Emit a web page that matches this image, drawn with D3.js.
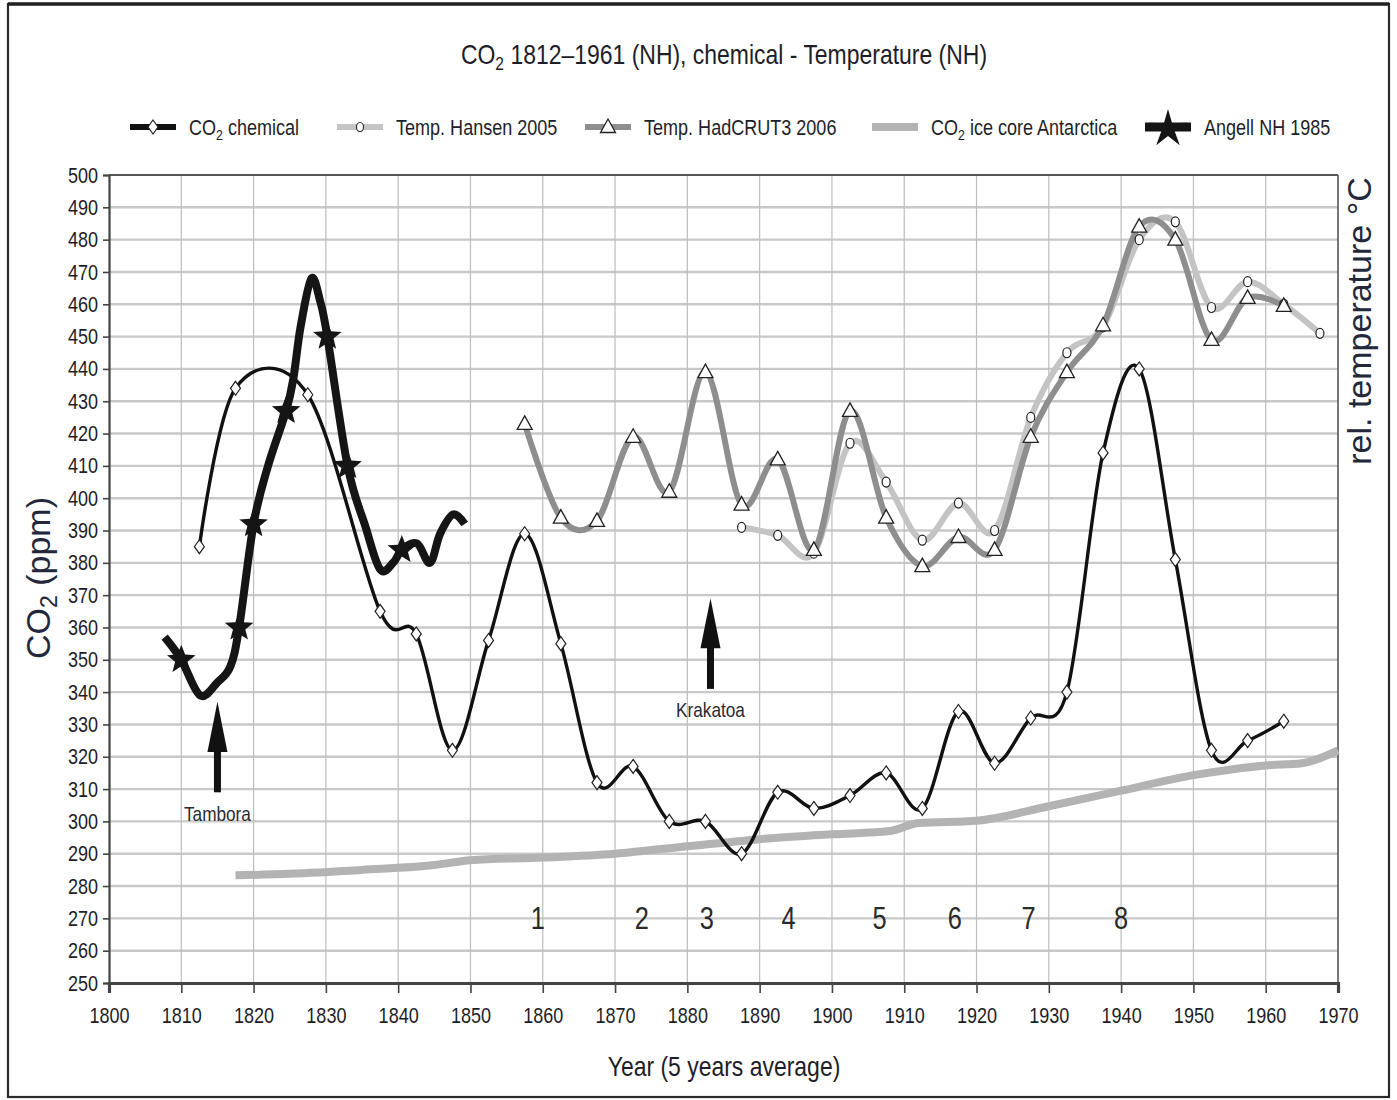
<!DOCTYPE html>
<html><head><meta charset="utf-8">
<script src="https://cdn.jsdelivr.net/npm/d3@7"></script>
<style>
html,body{margin:0;padding:0;background:#fff;}
svg{display:block;}
</style></head><body>
<svg id="chart" width="1397" height="1100"></svg>
<script>
// ---------------- DATA ----------------
const chemYears = [1812.5,1817.5,1827.5,1837.5,1842.5,1847.5,1852.5,1857.5,1862.5,1867.5,1872.5,1877.5,1882.5,1887.5,1892.5,1897.5,1902.5,1907.5,1912.5,1917.5,1922.5,1927.5,1932.5,1937.5,1942.5,1947.5,1952.5,1957.5,1962.5];
const chemValues = [385,434,432,365,358,322,356,389,355,312,317,300,300,290,309,304,308,315,304,334,318,332,340,414,440,381,322,325,331];

const hadYears = [1857.5,1862.5,1867.5,1872.5,1877.5,1882.5,1887.5,1892.5,1897.5,1902.5,1907.5,1912.5,1917.5,1922.5,1927.5,1932.5,1937.5,1942.5,1947.5,1952.5,1957.5,1962.5];
const hadValues = [423,394,393,419,402,439,398,412,384,427,394,379,388,384,419,439,453.5,484,480,449,462,459.5];

const hansenYears = [1887.5,1892.5,1897.5,1902.5,1907.5,1912.5,1917.5,1922.5,1927.5,1932.5,1937.5,1942.5,1947.5,1952.5,1957.5,1962.5,1967.5];
const hansenValues = [391,388.5,383,417,405,387,398.5,390,425,445,453,480,485.5,459,467,460,451];

const iceYears = [1817.5,1825,1835,1845,1850,1860,1870,1880,1890,1900,1908,1912,1920,1930,1940,1950,1955,1960,1965,1970];
const iceValues = [283.3,283.8,285,286.5,288,288.8,290,292.3,294.5,296,297,299.5,300.2,304.7,309.5,314.3,316,317.3,318,322];

const angellYears = [1807.7,1810,1812.6,1815,1816.8,1818,1820,1822,1824.5,1825.5,1826.5,1828,1829.2,1830.2,1833,1835.5,1837.5,1839.3,1840.5,1842.6,1844.4,1845.8,1847.6,1849.2];
const angellValues = [357,350,339,343,348,360,392,410,427,437,453,468,461,450,410,391,378,380,384,386,380,389,395,392];
const angellStars = [0,1,0,0,0,1,1,0,1,0,0,0,0,1,1,0,0,0,1,0,0,0,0,0];

const yTicks = d3.range(250, 501, 10);
const xTicks = d3.range(1800, 1971, 10);
const periodLabels = ["1","2","3","4","5","6","7","8"];
const periodYears = [1859.3,1873.7,1882.7,1894,1906.6,1917,1927.2,1940];
const volcanoNames = ["Tambora","Krakatoa"];
const volcanoYears = [1815, 1883.2];

// ---------------- SETUP ----------------
function hasFont(name){
  const c=document.createElement('canvas').getContext('2d');
  c.font='40px monospace'; const w0=c.measureText('abcdefghijklmnop').width;
  c.font='40px "'+name+'", monospace'; return Math.abs(c.measureText('abcdefghijklmnop').width-w0)>0.5;
}
const narrowOK = hasFont('Liberation Sans Narrow');
const NARROW = narrowOK ? '"Liberation Sans Narrow", sans-serif' : '"Liberation Sans", Arial, sans-serif';
const SQUEEZE = narrowOK ? 1 : 0.82;
function narrow(sel){
  sel.style('font-family', NARROW);
  if(SQUEEZE!==1){
    sel.each(function(){
      const t=d3.select(this); const x=+t.attr('x')||0;
      t.attr('transform','translate('+(x*(1-SQUEEZE))+',0) scale('+SQUEEZE+',1)');
    });
  }
}
const REG = '"Liberation Sans", Arial, sans-serif';
const TXT = '#1e1e28';

const svg = d3.select('#chart');
const L=109, R=1338, T=175, B=983;
const x = d3.scaleLinear().domain([1800,1970]).range([L,R]);
const y = d3.scaleLinear().domain([250,500]).range([B,T]);

// outer frame
svg.append('rect').attr('x',8).attr('y',4).attr('width',1381).attr('height',1093)
  .attr('fill','#fff').attr('stroke','#2a2a2a').attr('stroke-width',2.2);
svg.append('line').attr('x1',8).attr('x2',1389).attr('y1',4).attr('y2',4).attr('stroke','#222').attr('stroke-width',3.5);

// gridlines
const grid = svg.append('g');
grid.selectAll('line.h').data(yTicks.filter(v=>v>250 && v<500)).join('line')
  .attr('x1',L).attr('x2',R).attr('y1',d=>y(d)).attr('y2',d=>y(d))
  .attr('stroke','#c9c9c9').attr('stroke-width',2.4);
grid.selectAll('line.v').data(xTicks.filter(v=>v>1800 && v<1970)).join('line')
  .attr('x1',d=>x(d)).attr('x2',d=>x(d)).attr('y1',T).attr('y2',B)
  .attr('stroke','#bdbdbd').attr('stroke-width',1.2);

// plot frame (top/right)
svg.append('line').attr('x1',L).attr('x2',R).attr('y1',T).attr('y2',T).attr('stroke','#555').attr('stroke-width',2);
svg.append('line').attr('x1',R).attr('x2',R).attr('y1',T).attr('y2',B).attr('stroke','#555').attr('stroke-width',1.6);

// axes
const yAxis = svg.append('g').attr('transform','translate('+L+',0)')
  .call(d3.axisLeft(y).tickValues(yTicks).tickSize(6).tickPadding(5).tickFormat(d3.format('d')));
yAxis.select('.domain').attr('stroke','#444').attr('stroke-width',2.2);
yAxis.selectAll('.tick line').attr('stroke','#444').attr('stroke-width',1.6);
yAxis.selectAll('text').attr('fill',TXT).style('font-size','22px');
narrow(yAxis.selectAll('text'));

const xAxis = svg.append('g').attr('transform','translate(0,'+B+')')
  .call(d3.axisBottom(x).tickValues(xTicks).tickSize(10).tickPadding(14).tickFormat(d3.format('d')));
xAxis.select('.domain').attr('stroke','#444').attr('stroke-width',3.2);
xAxis.selectAll('.tick line').attr('stroke','#444').attr('stroke-width',1.6);
xAxis.selectAll('text').attr('fill',TXT).style('font-size','22px');
narrow(xAxis.selectAll('text'));

// ---------------- SERIES ----------------
const curve = d3.curveCardinal.tension(0);
function series(xs, vs){ return xs.map((d,i)=>({x:d, v:vs[i], i:i})); }
const lineGen = d3.line().x(d=>x(d.x)).y(d=>y(d.v)).curve(curve);

const iceData = series(iceYears, iceValues);
const hanData = series(hansenYears, hansenValues);
const hadData = series(hadYears, hadValues);
const chemData = series(chemYears, chemValues);
const angData = series(angellYears, angellValues);

const plot = svg.append('g');
plot.append('path').datum(iceData).attr('d', d3.line().x(d=>x(d.x)).y(d=>y(d.v)).curve(d3.curveMonotoneX))
  .attr('fill','none').attr('stroke','#b3b3b3').attr('stroke-width',8).attr('stroke-linecap','butt');
plot.append('path').datum(hanData).attr('d', lineGen)
  .attr('fill','none').attr('stroke','#c4c4c4').attr('stroke-width',6);
plot.append('path').datum(hadData).attr('d', lineGen)
  .attr('fill','none').attr('stroke','#8e8e8e').attr('stroke-width',6);

// markers hansen (ellipses) and hadcrut (triangles)
plot.selectAll('ellipse.han').data(hanData).join('ellipse')
  .attr('cx',d=>x(d.x)).attr('cy',d=>y(d.v)).attr('rx',4).attr('ry',5)
  .attr('fill','#fff').attr('stroke','#222').attr('stroke-width',1.2);
const triPath = 'M0,-8L7.5,5.5L-7.5,5.5Z';
plot.selectAll('path.had').data(hadData).join('path')
  .attr('transform',d=>'translate('+x(d.x)+','+y(d.v)+')').attr('d',triPath)
  .attr('fill','#fff').attr('stroke','#222').attr('stroke-width',1.3);

// chemical
plot.append('path').datum(chemData).attr('d', lineGen)
  .attr('fill','none').attr('stroke','#111').attr('stroke-width',3.4);
const diaPath = 'M0,-7L5,0L0,7L-5,0Z';
plot.selectAll('path.chem').data(chemData).join('path')
  .attr('transform',d=>'translate('+x(d.x)+','+y(d.v)+')').attr('d',diaPath)
  .attr('fill','#fff').attr('stroke','#222').attr('stroke-width',1.2);

// Angell
function starPath(Ro, Ri){
  let p='';
  for(let i=0;i<10;i++){
    const a=-Math.PI/2+i*Math.PI/5, r=i%2?Ri:Ro;
    p+=(i?'L':'M')+(r*Math.cos(a)).toFixed(2)+','+(r*Math.sin(a)).toFixed(2);
  }
  return p+'Z';
}
plot.append('path').datum(angData).attr('d', lineGen)
  .attr('fill','none').attr('stroke','#151515').attr('stroke-width',8).attr('stroke-linejoin','round');
plot.selectAll('path.star').data(angData.filter(d=>angellStars[d.i])).join('path')
  .attr('transform',d=>'translate('+x(d.x)+','+y(d.v)+')').attr('d',starPath(15,6.5))
  .attr('fill','#151515');

// ---------------- ANNOTATIONS ----------------
const ann = svg.append('g');
const pn = ann.selectAll('text.pn').data(periodLabels).join('text')
  .attr('x',(d,i)=>x(periodYears[i])).attr('y',y(270)+11)
  .attr('text-anchor','middle').attr('fill','#2a2a2a').style('font-size','31px').text(d=>d);
narrow(pn);

const arrowSpec = [
  {tip:337, base:321.5, bottom:309, label:300},
  {tip:369, base:353.6, bottom:341, label:332.4}
];
volcanoNames.forEach((name,i)=>{
  const cx = x(volcanoYears[i]); const s = arrowSpec[i];
  ann.append('rect').attr('x',cx-3.5).attr('y',y(s.base)-1).attr('width',7).attr('height',y(s.bottom)-y(s.base)+1).attr('fill','#111');
  ann.append('path').attr('d','M'+cx+','+y(s.tip)+'L'+(cx+10)+','+y(s.base)+'L'+(cx-10)+','+y(s.base)+'Z').attr('fill','#111');
  const t = ann.append('text').attr('x',cx).attr('y',y(s.label)).attr('text-anchor','middle')
    .attr('fill','#2a2a33').style('font-size','21px').text(name);
  narrow(t);
});

// ---------------- TITLES ----------------
const title = svg.append('text').attr('x',724).attr('y',64).attr('text-anchor','middle')
  .attr('fill',TXT).style('font-size','28px');
title.append('tspan').text('CO');
title.append('tspan').text('2').attr('dy',6).style('font-size','19px');
title.append('tspan').text(' 1812–1961 (NH), chemical - Temperature (NH)').attr('dy',-6);
narrow(title);

const xt = svg.append('text').attr('x',724).attr('y',1076).attr('text-anchor','middle')
  .attr('fill',TXT).style('font-size','28px').text('Year (5 years average)');
narrow(xt);

const yl = svg.append('text').attr('transform','translate(50,578) rotate(-90)').attr('text-anchor','middle')
  .attr('fill','#22283a').style('font-family',REG).style('font-size','34px');
yl.append('tspan').text('CO');
yl.append('tspan').text('2').attr('dy',7).style('font-size','23px');
yl.append('tspan').text(' (ppm)').attr('dy',-7);

svg.append('text').attr('transform','translate(1371,321) rotate(-90)').attr('text-anchor','middle')
  .attr('fill','#22283a').style('font-family',REG).style('font-size','34px').text('rel. temperature °C');

// ---------------- LEGEND ----------------
const legendNames = ['CO|2| chemical','Temp. Hansen 2005','Temp. HadCRUT3 2006','CO|2| ice core Antarctica','Angell NH 1985'];
const legendX = [130, 337, 585, 872, 1145];
const LY = 127;
const lg = svg.append('g');
legendNames.forEach((name,i)=>{
  const x0 = legendX[i], x1 = x0+46, xm = (x0+x1)/2;
  const styles = [
    {c:'#111', w:6}, {c:'#c4c4c4', w:6}, {c:'#8e8e8e', w:6}, {c:'#b3b3b3', w:8}, {c:'#151515', w:9}
  ][i];
  lg.append('line').attr('x1',x0).attr('x2',x1).attr('y1',LY).attr('y2',LY).attr('stroke',styles.c).attr('stroke-width',styles.w);
  if(i===0) lg.append('path').attr('transform','translate('+xm+','+LY+')').attr('d',diaPath).attr('fill','#fff').attr('stroke','#222').attr('stroke-width',1.2);
  if(i===1) lg.append('ellipse').attr('cx',xm).attr('cy',LY).attr('rx',3.5).attr('ry',4.5).attr('fill','#fff').attr('stroke','#222').attr('stroke-width',1.1);
  if(i===2) lg.append('path').attr('transform','translate('+xm+','+LY+')').attr('d',triPath).attr('fill','#fff').attr('stroke','#222').attr('stroke-width',1.3);
  if(i===4) lg.append('path').attr('transform','translate('+xm+','+(LY+2)+')').attr('d',starPath(20,7)).attr('fill','#151515');
  const t = lg.append('text').attr('x',x1+13).attr('y',LY+8).attr('fill',TXT).style('font-size','22px');
  const parts = name.split('|');
  parts.forEach((p,k)=>{
    const ts = t.append('tspan').text(p);
    if(k===1){ ts.attr('dy',5).style('font-size','15px'); }
    if(k===2){ ts.attr('dy',-5); }
  });
  narrow(t);
});
</script>
</body></html>
